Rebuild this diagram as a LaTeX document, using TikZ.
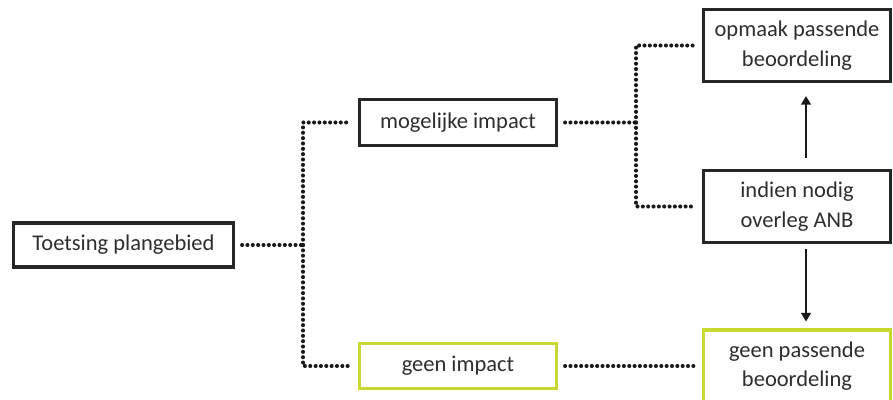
\documentclass[tikz,border=0pt]{standalone}
\usepackage{fontspec}
\setmainfont{Carlito}
\usetikzlibrary{positioning,arrows.meta}
\definecolor{kaderGroen}{HTML}{C8D830}
\definecolor{tekstGrijs}{HTML}{2E2E2E}

\begin{document}
\begin{tikzpicture}[
        x=0.025cm, y=-0.025cm,
        box/.style={draw=black!85, line width=2.2pt, align=center, inner sep=0pt, text=tekstGrijs,
                    font=\fontsize{16}{21}\selectfont, fill=white},
        greenbox/.style={box, draw=kaderGroen},
        dotline/.style={line width=2.9pt, line cap=round, dash pattern=on 0pt off 3.8pt, draw=black!90},
        arr/.style={-{Triangle[length=6pt, width=7pt]}, line width=0.9pt, draw=black!90}
    ]
    \useasboundingbox (0,0) rectangle (893,400);

    % Niveau 1
    \node[box, minimum width=5.5cm, minimum height=1.1cm] (toets) at (123.5,245) {Toetsing plangebied};

    % Niveau 2
    \node[box, minimum width=4.925cm, minimum height=1.15cm] (mog) at (458,122.5) {mogelijke impact};
    \node[greenbox, minimum width=4.925cm, minimum height=1.12cm] (geen) at (458,366) {geen impact};

    % Niveau 3
    \node[box, minimum width=4.675cm, minimum height=1.82cm] (opmaak) at (797,45.5) {opmaak passende\\beoordeling};
    \node[box, minimum width=4.675cm, minimum height=1.78cm] (indien) at (797,206.5) {indien nodig\\overleg ANB};
    \node[greenbox, minimum width=4.675cm, minimum height=1.8cm] (gpb) at (797,366) {geen passende\\beoordeling};

    % splitsingen
    \coordinate (split1) at (303,245);
    \coordinate (split2) at (636,122.5);

    % stippellijnen
    \draw[dotline, shorten <=5pt] (toets.east) -- (split1);
    \draw[dotline, shorten >=5pt] (split1) |- (mog.west);
    \draw[dotline, shorten >=5pt] (split1) |- (geen.west);
    \draw[dotline, shorten <=5pt] (mog.east) -- (split2);
    \draw[dotline, shorten >=5pt] (split2) |- (opmaak.west);
    \draw[dotline, shorten >=5pt] (split2) |- (indien.west);
    \draw[dotline, shorten <=5pt, shorten >=5pt] (geen.east) -- (geen.east -| gpb.west);

    % pijlen
    \draw[arr, shorten <=8pt, shorten >=9pt] ([xshift=0.225cm]indien.north) -- ([xshift=0.225cm]opmaak.south);
    \draw[arr, shorten <=4pt, shorten >=5pt] ([xshift=0.225cm]indien.south) -- ([xshift=0.225cm]gpb.north);

\end{tikzpicture}
\end{document}
